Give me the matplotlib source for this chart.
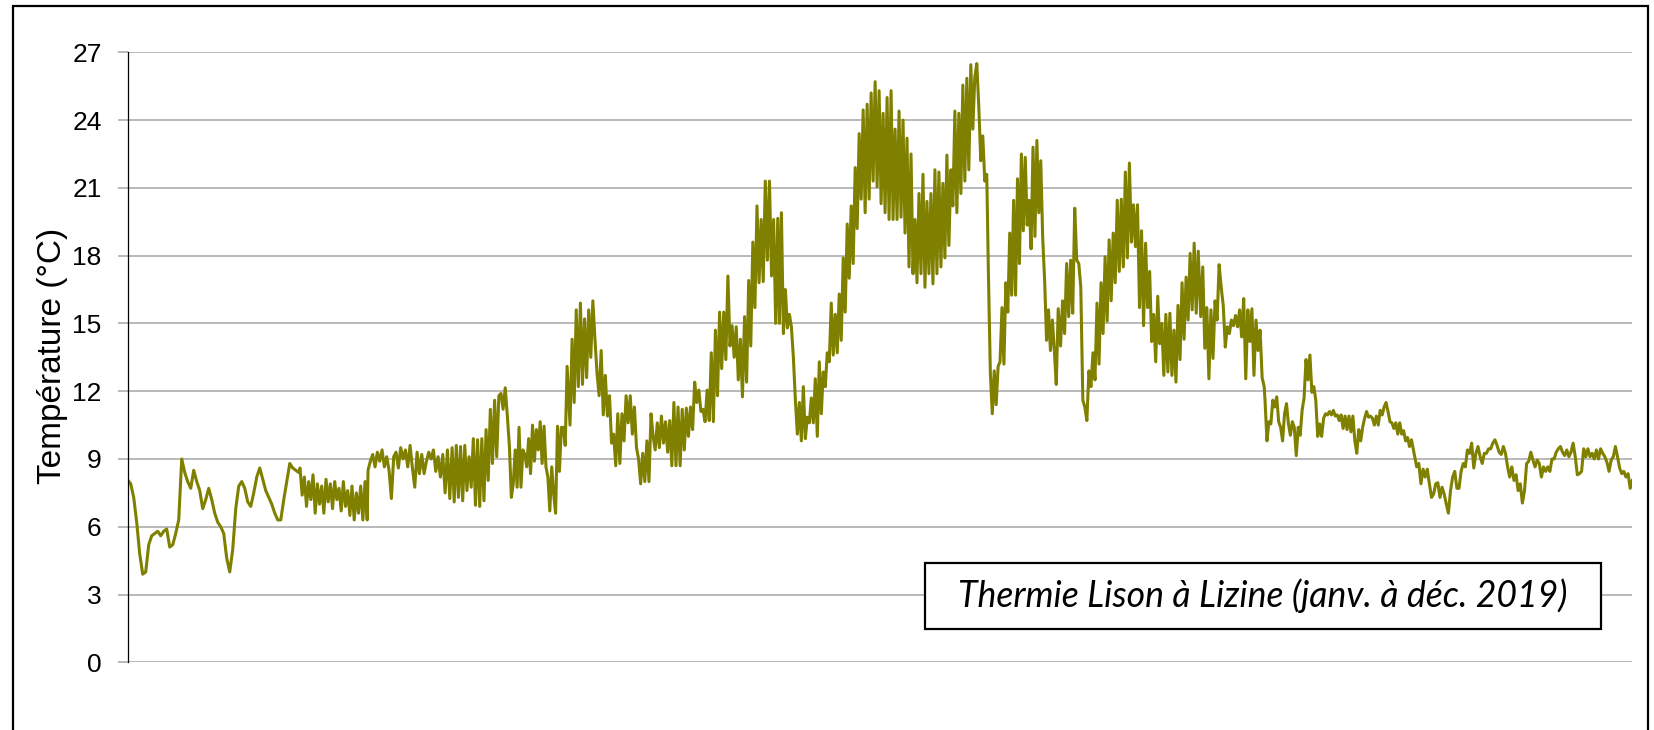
import numpy as np
import matplotlib
matplotlib.use("Agg")
import matplotlib.pyplot as plt
from matplotlib.patches import Rectangle

plt.rcParams['font.family'] = ['Liberation Sans', 'DejaVu Sans']

# ---------------- data ----------------
# Each reading window: (first day, last day) of year 2019 and the readings
# taken at regular time steps inside it (alternating daily highs / lows).
days_a = (0.0, 41.5)
temp_a = [8.07, 7.9, 7.3, 6.2, 4.8, 3.9, 4.0, 5.2, 5.6, 5.7, 5.8, 5.6, 5.8, 5.9, 5.1, 5.2,
          5.7, 6.3, 9.0, 8.4, 8.0, 7.7, 8.5, 8.0, 7.6, 6.8, 7.2, 7.7, 7.2, 6.6, 6.2, 6.0,
          5.7, 4.6, 4.0, 5.0, 6.8, 7.8, 8.0, 7.7, 7.1, 6.9, 7.5, 8.2, 8.6, 8.1, 7.6, 7.3,
          7.0, 6.6, 6.3, 6.3, 7.2, 8.0, 8.8, 8.6, 8.5, 8.4]

days_b = (41.8, 58.1)
temp_b = [8.6, 7.4, 8.2, 6.9, 8.0, 7.2, 8.3, 6.6, 7.9, 7.0, 7.8, 6.6, 8.1, 7.1, 7.9, 6.8,
          8.0, 7.2, 7.7, 6.7, 8.0, 6.9, 7.6, 6.5, 7.8, 6.3, 7.5, 6.6, 7.8, 6.3, 8.0, 6.3]

days_c = (58.3, 78.7)
temp_c = [8.5, 8.9, 9.2, 8.65, 9.3, 8.9, 9.4, 8.65, 9.1, 8.5, 7.25, 9.1, 9.3, 8.6, 9.5, 9.0,
          9.4, 8.65, 9.6, 8.6, 7.75, 9.3, 8.35, 9.2, 8.35, 8.9, 9.3, 9.0, 9.4, 8.45, 9.1, 8.2,
          9.2, 7.5, 9.4, 7.25, 9.5]

days_d = (79.2, 92.1)
temp_d = [7.1, 9.6, 7.3, 9.55, 7.15, 9.6, 7.6, 9.1, 7.75, 9.9, 6.95, 9.85, 6.9, 9.9, 7.15,
          10.3, 8.05, 11.2, 8.8, 11.6, 9.1, 11.8, 11.9, 11.2, 12.15, 10.9]

days_e = (92.6, 106.6)
temp_e = [9.55, 7.3, 7.9, 9.4, 7.75, 10.4, 7.75, 9.4, 9.2, 8.65, 9.9, 8.35, 10.5, 8.9, 10.3,
          9.4, 10.65, 8.8, 10.45, 8.65, 8.2, 6.7, 8.65, 7.45, 6.6, 10.45, 8.45, 10.4, 10.4,
          9.6, 13.1]

days_f = (107.3, 157.7)
temp_f = [10.5, 14.3, 11.5, 15.6, 12.2, 15.9, 12.3, 15.2, 12.6, 15.6, 13.5, 16.0, 14.3, 12.8,
          11.8, 13.8, 10.95, 12.7, 10.9, 11.8, 9.7, 10.1, 8.7, 11.0, 8.8, 11.0, 9.8, 11.8,
          10.6, 11.8, 10.1, 11.3, 9.5, 9.0, 7.9, 9.25, 8.0, 9.8, 8.0, 11.0, 10.0, 9.4, 10.6,
          9.5, 10.9, 9.7, 10.65, 9.3, 10.7, 8.7, 11.5, 8.7, 11.3, 8.7, 11.2, 9.4, 11.25, 10.0,
          11.3, 10.3, 12.4, 11.5, 12.05, 11.1, 11.2, 10.65, 12.05, 10.7, 13.7, 10.65, 14.7,
          11.8, 15.5, 13.0, 15.5, 13.4, 17.1, 14.0, 14.9, 13.5, 14.85, 12.5, 14.3, 11.75,
          15.3, 12.4, 16.9, 14.0, 18.6, 15.7, 20.2, 16.8, 19.6, 16.85, 21.3, 17.8, 21.3,
          17.1, 19.6, 15.0, 19.65]

days_g = (158.1, 208.4)
temp_g = [15.0, 19.9, 14.55, 16.5, 14.8, 15.4, 14.85, 13.5, 11.6, 10.1, 11.5, 9.8, 12.2, 9.9,
          10.85, 10.6, 11.7, 10.6, 12.55, 10.0, 13.3, 11.0, 12.85, 12.2, 13.7, 13.3, 15.9,
          13.6, 15.4, 13.7, 16.3, 14.25, 17.9, 15.5, 19.4, 17.0, 20.2, 17.65, 21.9, 19.2,
          23.4, 20.5, 24.45, 19.9, 24.7, 20.5, 25.2, 21.3, 25.7, 21.05, 25.3, 20.3, 24.3,
          19.9, 25.0, 19.6, 25.3, 19.6, 23.6, 19.6, 24.4, 19.7, 24.0, 19.0, 23.2, 17.5, 22.5,
          17.2, 19.6, 16.8, 20.75, 17.2, 21.6, 16.6, 20.4, 17.2, 20.75, 16.75, 21.8, 17.2,
          21.7, 17.5, 21.2, 17.9, 22.45, 18.45, 21.8, 20.2, 24.4, 19.9, 24.3, 20.75, 25.55,
          21.3, 25.85, 21.8, 26.45, 23.6, 25.9, 26.5, 24.6, 22.2, 23.3, 21.3, 21.6]

days_h = (208.8, 226.2)
temp_h = [17.2, 12.8, 11.0, 12.9, 11.4, 13.1, 13.3, 15.7, 13.2, 16.8, 15.5, 19.0, 16.25,
          20.45, 16.25, 21.4, 17.65, 22.5, 19.1, 22.35, 19.35, 20.45, 18.3, 22.8, 18.85, 23.1,
          19.9, 22.2, 18.8, 16.9, 14.25, 15.6, 13.8, 15.15, 13.8, 12.3, 15.65, 14.25]

days_i = (226.3, 259.7)
temp_i = [14.0, 16.0, 14.55, 17.65, 15.3, 17.8, 15.45, 20.1, 17.8, 17.65, 16.6, 11.6, 11.3,
          10.7, 12.9, 12.2, 13.7, 12.5, 15.9, 13.2, 16.8, 14.55, 17.95, 15.1, 18.7, 16.0, 19.0,
          16.8, 20.45, 17.3, 20.5, 17.5, 21.7, 17.9, 22.1, 18.6, 20.25, 18.4, 20.25, 15.7,
          19.1, 14.9, 18.55, 15.7, 17.3, 14.2, 15.4, 13.3, 16.2, 14.1, 15.0, 12.7, 15.4, 12.85,
          15.45, 12.7, 14.7, 12.4, 15.8, 13.4, 16.8, 14.3, 17.05, 15.15, 18.1, 15.6, 18.55,
          15.45, 18.2]

days_j = (260.3, 275.7)
temp_j = [15.3, 17.5, 13.9, 15.7, 12.55, 15.6, 13.45, 16.0, 15.15, 17.6, 16.6, 15.8, 13.95,
          14.85, 14.55, 15.15, 14.9, 15.35, 14.85, 15.6, 14.4, 16.1, 12.55, 15.6, 14.2, 15.65,
          12.7, 15.15, 13.8, 14.7, 12.6, 12.2]

days_k = (275.9, 311.9)
temp_k = [11.6, 9.8, 10.65, 10.55, 11.6, 11.3, 11.75, 10.65, 10.4, 9.8, 11.0, 11.45, 10.55,
          10.05, 10.65, 10.4, 9.15, 10.4, 10.05, 11.15, 11.7, 13.4, 12.5, 13.6, 11.95, 12.2,
          11.6, 10.0, 10.55, 10.0, 10.8, 11.0, 10.95, 11.1, 10.95, 11.15, 10.9, 10.95, 10.7,
          10.95, 10.35, 10.9, 10.3, 10.9, 10.2, 10.9, 9.8, 9.25, 10.3, 9.8, 10.4, 10.8, 11.1,
          10.85, 10.9, 10.8, 10.5, 10.9, 10.5, 11.15, 10.95, 11.3, 11.5, 11.1, 10.65, 10.6,
          10.35, 10.6, 10.1, 10.6, 10.1, 10.25, 9.8, 9.95, 9.55, 9.85, 9.4]

days_l = (312.7, 365.0)
temp_l = [8.65, 8.8, 7.9, 8.55, 8.2, 8.55, 7.9, 7.3, 7.45, 7.9, 7.95, 7.3, 7.75, 7.45, 7.0,
          6.6, 7.6, 8.2, 8.45, 7.7, 7.7, 8.45, 8.8, 8.65, 9.4, 9.25, 9.7, 8.6, 9.25, 9.55, 9.1,
          8.8, 9.25, 9.25, 9.45, 9.45, 9.7, 9.85, 9.6, 9.3, 9.2, 9.55, 9.25, 8.65, 8.2, 8.65,
          8.05, 8.3, 7.6, 7.9, 7.05, 7.6, 8.8, 8.9, 9.3, 8.95, 8.65, 8.95, 8.8, 8.2, 8.65, 8.45,
          8.65, 8.45, 9.0, 9.0, 9.3, 9.45, 9.55, 9.3, 9.15, 9.4, 9.1, 9.3, 9.7, 9.1, 8.3, 8.35,
          8.45, 9.45, 9.1, 9.45, 9.1, 9.25, 9.0, 9.4, 9.0, 9.45, 9.25, 9.1, 8.85, 8.45, 8.95,
          9.1, 9.55, 9.1, 8.6, 8.35, 8.45, 8.2, 8.35, 7.7, 8.05]

y_ticks = [0, 3, 6, 9, 12, 15, 18, 21, 24, 27]
y_label = "Température (°C)"
box_text = "Thermie Lison à Lizine (janv. à déc. 2019)"

windows = [(days_a, temp_a), (days_b, temp_b), (days_c, temp_c), (days_d, temp_d),
           (days_e, temp_e), (days_f, temp_f), (days_g, temp_g), (days_h, temp_h),
           (days_i, temp_i), (days_j, temp_j), (days_k, temp_k), (days_l, temp_l)]

t_all, v_all = [], []
for (d0, d1), vals in windows:
    t_all.append(np.linspace(d0, d1, len(vals)))
    v_all.append(np.asarray(vals, dtype=float))
t_all = np.concatenate(t_all)
v_all = np.concatenate(v_all)

# ---------------- figure ----------------
W, H = 1654, 730
fig = plt.figure(figsize=(W / 100, H / 100), dpi=100)
fig.patch.set_facecolor("white")

ax_l, ax_r, ax_t, ax_b = 127.7, 1632.3, 52.3, 662.3
ax = fig.add_axes([ax_l / W, 1 - ax_b / H, (ax_r - ax_l) / W, (ax_b - ax_t) / H])

ax.plot(t_all, v_all, color="#808000", lw=2.2, solid_joinstyle="round", zorder=3)

ax.set_xlim(0, 365)
ax.set_ylim(0, 27)
ax.set_yticks(y_ticks)
ax.set_yticklabels([str(v) for v in y_ticks])
ax.set_xticks([])

ax.grid(axis="y", color="#a6a6a6", lw=1.1, zorder=0)
ax.set_axisbelow(True)
for s in ["top", "right", "bottom"]:
    ax.spines[s].set_visible(False)
ax.spines["left"].set_color("black")
ax.spines["left"].set_linewidth(0.9)
ax.spines["left"].set_zorder(4)

ax.tick_params(axis="y", which="major", length=7.2, width=1.1, color="#a6a6a6",
               pad=11.5, labelsize=19, labelcolor="black")

fig.text(53 / W, 1 - 356 / H, y_label, rotation=90, ha="center", va="center",
         fontsize=24, color="black")

# outer frame
frame = Rectangle((13 / W, 1 - 745 / H), (1648 - 13) / W, (745 - 6) / H,
                  transform=fig.transFigure, fill=False, edgecolor="black", lw=1.6,
                  zorder=10)
fig.patches.append(frame)

# annotation box
bx0, bx1, by0, by1 = 925, 1601, 563, 629
box = Rectangle((bx0 / W, 1 - by1 / H), (bx1 - bx0) / W, (by1 - by0) / H,
                transform=fig.transFigure, facecolor="white", edgecolor="black", lw=1.6,
                zorder=10)
fig.patches.append(box)
txt = fig.text((bx0 + bx1) / 2 / W, 1 - (by0 + by1) / 2 / H, box_text, ha="center",
               va="center", fontsize=20, style="italic", family=["Lato", "DejaVu Sans"],
               color="black", zorder=11)
fig.canvas.draw()
bb = txt.get_window_extent(fig.canvas.get_renderer())
txt.set_fontsize(20 * 608 / bb.width)

fig.savefig("out.png", dpi=100, facecolor="white")
